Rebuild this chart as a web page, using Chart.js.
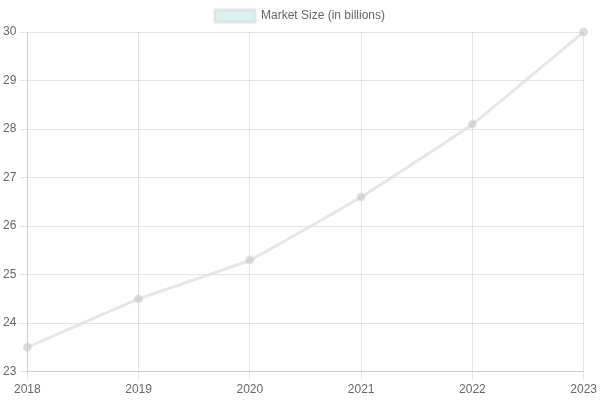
<!DOCTYPE html>
<html>
<head>
<meta charset="utf-8">
<script src="https://cdn.jsdelivr.net/npm/chart.js"></script>
<style>
  html, body { margin: 0; padding: 0; background: #fff; }
  #wrap { width: 600px; height: 400px; }
</style>
</head>
<body>
<div id="wrap"><canvas id="marketChart"></canvas></div>
<script>
// Chart data
const years = ['2018', '2019', '2020', '2021', '2022', '2023'];
const marketSize = [23.5, 24.5, 25.3, 26.6, 28.1, 30];

document.addEventListener('DOMContentLoaded', function() {
    Chart.defaults.font.family = '"Liberation Sans", Arial, sans-serif';
    Chart.defaults.color = '#666';

    new Chart(document.getElementById('marketChart'), {
        type: 'line',
        data: {
            labels: years,
            datasets: [{
                label: 'Market Size (in billions)',
                data: marketSize,
                borderColor: 'rgba(220, 220, 220, 0.7)',
                backgroundColor: 'rgba(75, 192, 192, 0.2)',
                pointBorderColor: 'rgba(200, 200, 200, 0.5)',
                borderWidth: 3,
                tension: 0.1,
                fill: false
            }]
        },
        options: {
            responsive: true,
            maintainAspectRatio: false,
            animation: false,
            scales: {
                y: { beginAtZero: false }
            }
        }
    });
});
</script>
</body>
</html>
